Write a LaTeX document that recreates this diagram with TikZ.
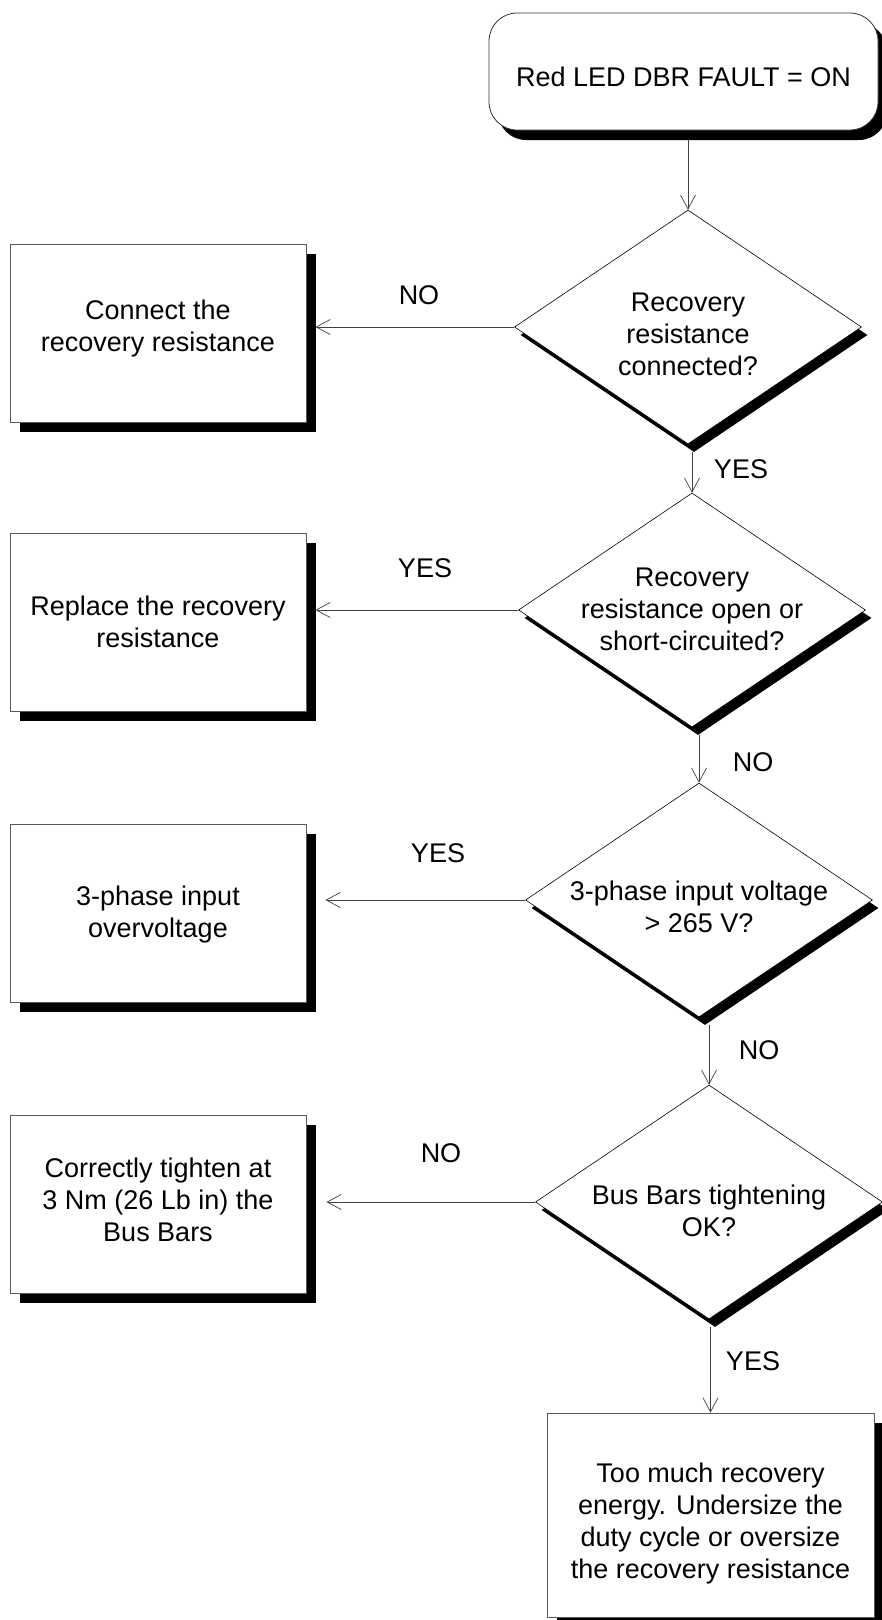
\documentclass[tikz,border=0pt]{standalone}
\usepackage{fontspec}
\setmainfont{Liberation Sans}
\usetikzlibrary{shapes.geometric,arrows.meta,shadows}

\begin{document}
\begin{tikzpicture}[x=1pt,y=-1pt,
  every node/.style={font=\fontsize{27}{32}\selectfont, align=center, inner sep=0pt},
  startbox/.style={rectangle, rounded corners=28pt, draw=black!80, line width=0.8pt,
    fill=white, minimum width=389pt, minimum height=117pt,
    drop shadow={shadow xshift=9pt, shadow yshift=-10pt, fill=black, opacity=1}},
  action/.style={rectangle, draw=black!65, line width=0.9pt, fill=white,
    minimum width=296pt, minimum height=178pt,
    drop shadow={shadow xshift=10pt, shadow yshift=-10pt, fill=black, opacity=1}},
  decision/.style={diamond, draw=black, line width=0.6pt, fill=white,
    minimum width=347pt, minimum height=234pt, aspect=1.48,
    drop shadow={shadow xshift=6pt, shadow yshift=-8pt, fill=black, opacity=1}},
  txt/.style={text=black},
  arr/.style={draw=black!75, line width=0.7pt,
    -{Straight Barb[length=14pt, width=15pt, line width=0.7pt]}},
  lbl/.style={text=black}
]
\useasboundingbox (0,0) rectangle (882,1620);
\clip (0,0) rectangle (882,1620);

% start
\node[startbox] (start) at (683.5,71.5) {};
\node[txt] (s1) at ([yshift=-5pt]start.center) {Red LED DBR FAULT = ON};

% decisions: diamond outlines, questions set a little below centre
\node[decision] (d1) at (688,327) {};
\node[decision] (d2) at (692,610) {};
\node[decision] (d3) at (699,900) {};
\node[decision] (d4) at (709,1202) {};
\node[txt] (q1) at ([yshift=-7pt]d1.center) {Recovery\\resistance\\connected?};
\node[txt] (q2) at ([yshift=1pt]d2.center) {Recovery\\resistance open or\\short-circuited?};
\node[txt] (q3) at ([yshift=-7pt]d3.center) {3-phase input voltage\\> 265 V?};
\node[txt] (q4) at ([yshift=-9pt]d4.center) {Bus Bars tightening\\OK?};

% actions
\node[action] (b1) at (158,333) {};
\node[action] (b2) at (158,622) {};
\node[action] (b3) at (158,913) {};
\node[action] (b4) at (158,1204) {};
\node[action, minimum width=327pt, minimum height=204pt] (b5) at (710.5,1515) {};
\node[txt] (a1) at ([yshift=4pt]b1.center) {Connect the\\recovery resistance};
\node[txt] (a2) at (b2.center) {Replace the recovery\\resistance};
\node[txt] (a3) at ([yshift=-2pt]b3.center) {3-phase input\\overvoltage};
\node[txt] (a4) at ([yshift=4pt]b4.center) {Correctly tighten at\\3 Nm (26 Lb in) the\\Bus Bars};
\node[txt] (a5) at ([yshift=-8pt]b5.center)
  {Too much recovery\\energy. Undersize the\\duty cycle or oversize\\the recovery resistance};

% main flow
\draw[arr] ([yshift=-10pt]start.south -| d1.north) -- (d1.north);
\draw[arr] ([yshift=-8pt]d1.south -| d2.north) -- (d2.north);
\draw[arr] ([yshift=-8pt]d2.south -| d3.north) -- (d3.north);
\draw[arr] ([yshift=-8pt]d3.south -| d4.north) -- (d4.north);
\draw[arr] ([yshift=-8pt]d4.south -| b5.north) -- (b5.north);

% side branches
\draw[arr] (d1.west) -- ([xshift=9pt]b1.east |- d1.west);
\draw[arr] (d2.west) -- ([xshift=9pt]b2.east |- d2.west);
\draw[arr] (d3.west) -- ([xshift=19pt]b3.east |- d3.west);
\draw[arr] (d4.west) -- ([xshift=20pt]b4.east |- d4.west);

% branch labels
\node[lbl] (l1) at (419,295) {NO};
\node[lbl] (l2) at (741,469) {YES};
\node[lbl] (l3) at (425,568) {YES};
\node[lbl] (l4) at (753,762) {NO};
\node[lbl] (l5) at (438,853) {YES};
\node[lbl] (l6) at (759,1050) {NO};
\node[lbl] (l7) at (441,1153) {NO};
\node[lbl] (l8) at (753,1361) {YES};
\end{tikzpicture}
\end{document}
